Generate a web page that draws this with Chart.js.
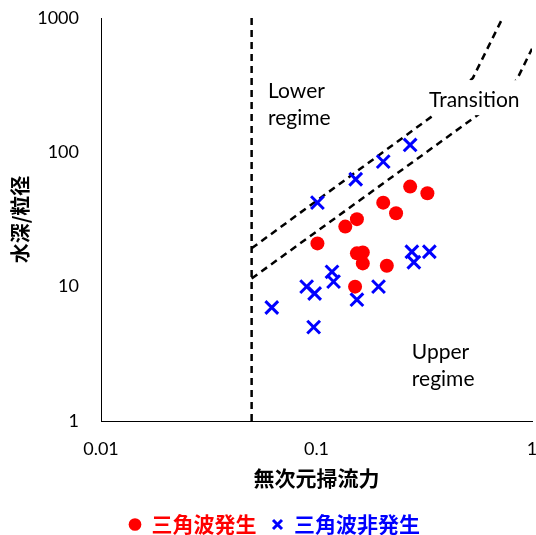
<!DOCTYPE html>
<html>
<head>
<meta charset="utf-8">
<script src="https://cdn.jsdelivr.net/npm/chart.js@4.4.0/dist/chart.umd.min.js"></script>
<style>
  html, body { margin: 0; padding: 0; background: #fff; }
  #wrap { width: 536px; height: 535px; }
</style>
</head>
<body>
<div id="wrap"><canvas id="graphique"></canvas></div>
<script>
// 三角波発生 (x: 無次元掃流力, y: 水深/粒径)
var hasseiX = [0.101, 0.136, 0.154, 0.204, 0.234, 0.272, 0.327, 0.154, 0.164, 0.164, 0.212, 0.151];
var hasseiY = [21.0, 28.0, 31.8, 42.2, 35.2, 55.6, 49.6, 17.7, 18.0, 14.9, 14.3, 10.0];

// 三角波非発生
var hiHasseiX = [0.272, 0.204, 0.152, 0.101, 0.277, 0.334, 0.283, 0.118, 0.120, 0.090, 0.098, 0.194, 0.154, 0.062, 0.097];
var hiHasseiY = [113.5, 85.3, 63.0, 42.2, 18.2, 18.2, 15.2, 12.9, 10.9, 10.0, 8.9, 10.0, 8.0, 7.0, 5.0];

// regime boundaries
var lowerLimitX = [0.05, 0.05];
var lowerLimitY = [1, 1000];
var transUpX = [0.05, 0.343, 0.532, 0.73];
var transUpY = [19.3, 185, 358, 1000];
var transLowX = [0.05, 0.574, 0.849, 1];
var transLowY = [11.5, 195, 346, 590];

var legendNames = ['三角波発生', '三角波非発生'];
var xTicks = [0.01, 0.1, 1];
var xTickLabels = ['0.01', '0.1', '1'];
var yTicks = [1, 10, 100, 1000];
var yTickLabels = ['1', '10', '100', '1000'];

function pts(xs, ys) {
  var out = [];
  for (var i in xs) {
    out.push({x: xs[i], y: ys[i]});
  }
  return out;
}

function boundary(xs, ys) {
  return {
    type: 'line',
    data: pts(xs, ys),
    borderColor: '#000',
    borderWidth: 2.5,
    borderDash: [7, 5],
    pointRadius: 0,
    fill: false,
    tension: 0
  };
}

// no extra room for the end labels, layout padding decides the plot box
function noEdgePadding(s) {
  s.paddingTop = 0;
  s.paddingBottom = 0;
  s.paddingLeft = 0;
  s.paddingRight = 0;
}

var notesPlugin = {
  id: 'notes',
  afterDatasetsDraw: function(chart, args, opts) {
    var ctx = chart.ctx;
    var xs = chart.scales.x, ys = chart.scales.y;
    ctx.save();
    ctx.font = opts.font;
    ctx.textBaseline = 'alphabetic';
    opts.items.forEach(function(n) {
      var px = xs.getPixelForValue(n.x);
      var py = ys.getPixelForValue(n.y);
      n.lines.forEach(function(t, i) {
        var y = py + i * opts.lineHeight;
        if (n.box) {
          var w = ctx.measureText(t).width;
          ctx.fillStyle = '#fff';
          ctx.fillRect(px - 3, y - 27, w + 8, 35);
        }
        ctx.fillStyle = '#000';
        ctx.fillText(t, px, y);
      });
    });
    ctx.restore();
  }
};

var tickFont = {family: 'Lato, "Open Sans", sans-serif', size: 18};
var jpFont = {family: '"Noto Sans CJK JP", sans-serif', size: 21, weight: 'bold'};

var ctx = document.getElementById('graphique');

var graph = new Chart(ctx, {
  type: 'scatter',
  data: {
    datasets: [
      {
        label: legendNames[0],
        data: pts(hasseiX, hasseiY),
        pointStyle: 'circle',
        pointRadius: 7,
        backgroundColor: '#FF0000',
        borderColor: '#FF0000',
        borderWidth: 0
      },
      {
        label: legendNames[1],
        data: pts(hiHasseiX, hiHasseiY),
        pointStyle: 'crossRot',
        pointRadius: 9,
        borderColor: '#0000FF',
        backgroundColor: '#0000FF',
        pointBorderWidth: 3
      },
      boundary(lowerLimitX, lowerLimitY),
      boundary(transUpX, transUpY),
      boundary(transLowX, transLowY)
    ]
  },
  options: {
    responsive: true,
    maintainAspectRatio: false,
    animation: false,
    events: [],
    layout: {autoPadding: false, padding: {top: 18, right: 4, bottom: -10, left: 17}},
    scales: {
      x: {
        type: 'logarithmic',
        min: 0.01,
        max: 1,
        grid: {display: false},
        border: {color: '#000', width: 1},
        afterBuildTicks: function(s) { s.ticks = xTicks.map(function(v) { return {value: v}; }); },
        afterFit: function(s) { s.height = 78; noEdgePadding(s); },
        ticks: {
          color: '#000',
          font: tickFont,
          padding: 9,
          autoSkip: false,
          maxRotation: 0,
          callback: function(v) { return xTickLabels[xTicks.indexOf(v)]; }
        },
        title: {display: true, text: '無次元掃流力', color: '#000', font: jpFont, padding: {top: 0, bottom: 8}}
      },
      y: {
        type: 'logarithmic',
        min: 1,
        max: 1000,
        grid: {display: false},
        border: {color: '#000', width: 1},
        afterBuildTicks: function(s) { s.ticks = yTicks.map(function(v) { return {value: v}; }); },
        afterFit: function(s) { s.width = 84; noEdgePadding(s); },
        ticks: {
          color: '#000',
          font: tickFont,
          padding: 14,
          autoSkip: false,
          callback: function(v) { return yTickLabels[yTicks.indexOf(v)]; }
        },
        title: {display: true, text: '水深/粒径', color: '#000', font: {family: '"Noto Sans CJK JP", sans-serif', size: 20, weight: 'bold'}, padding: {top: -9, bottom: 0}}
      }
    },
    plugins: {
      tooltip: {enabled: false},
      legend: {
        position: 'bottom',
        labels: {
          usePointStyle: true,
          boxWidth: 12,
          boxHeight: 9,
          padding: 15,
          font: {family: '"Noto Sans CJK JP", sans-serif', size: 21, weight: 'bold'},
          generateLabels: function(chart) {
            return [
              {text: legendNames[0], fillStyle: '#FF0000', strokeStyle: '#FF0000', fontColor: '#FF0000', pointStyle: 'circle', lineWidth: 0, datasetIndex: 0, hidden: false},
              {text: legendNames[1], fillStyle: '#0000FF', strokeStyle: '#0000FF', fontColor: '#0000FF', pointStyle: 'crossRot', lineWidth: 3, datasetIndex: 1, hidden: false}
            ];
          }
        }
      },
      notes: {
        font: '21px Lato, "Open Sans", sans-serif',
        lineHeight: 27,
        items: [
          {lines: ['Lower', 'regime'], x: 0.0596, y: 254},
          {lines: ['Transition'], x: 0.333, y: 217, box: true},
          {lines: ['Upper', 'regime'], x: 0.277, y: 2.88}
        ]
      }
    }
  },
  plugins: [notesPlugin]
});
</script>
</body>
</html>
